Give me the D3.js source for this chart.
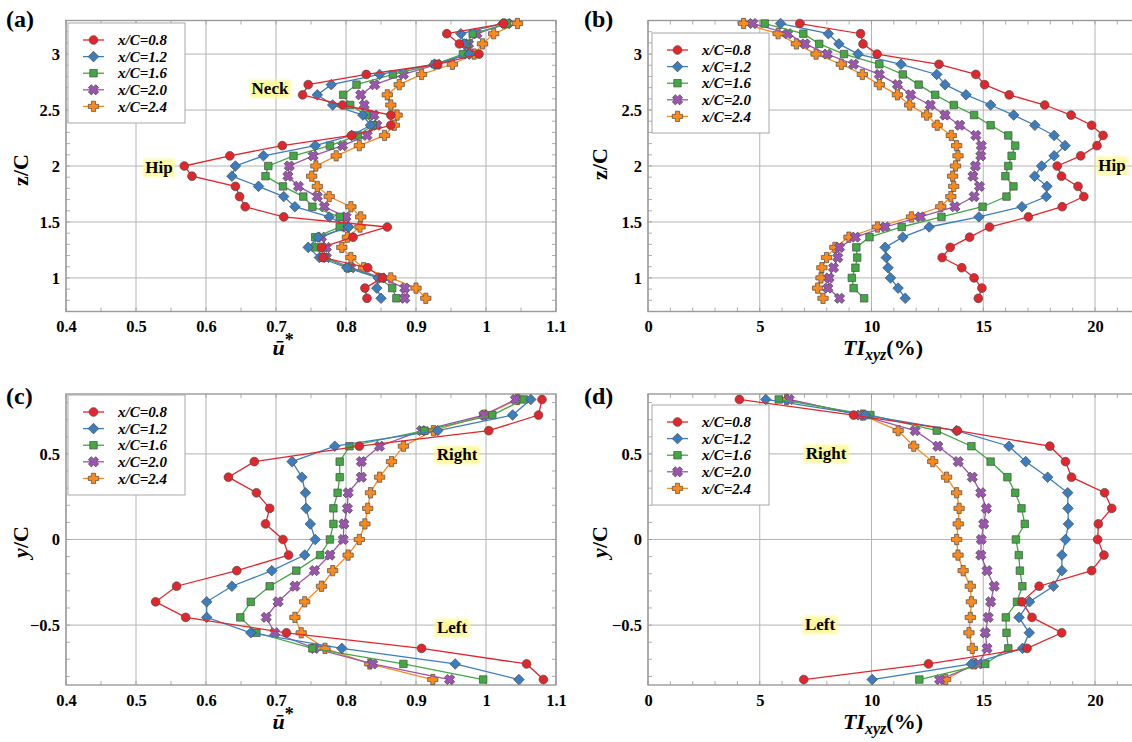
<!DOCTYPE html>
<html><head><meta charset="utf-8">
<script src="https://cdn.jsdelivr.net/npm/d3@7"></script>
<style>body{margin:0;background:#fff;overflow:hidden}</style>
</head><body>
<svg id="chart" width="1132" height="742"></svg>
<script>
// ---------- data ----------
const seriesNames = ["x/C=0.8","x/C=1.2","x/C=1.6","x/C=2.0","x/C=2.4"];
const zLevels = [3.273,3.182,3.091,3.0,2.909,2.818,2.727,2.636,2.545,2.455,2.364,2.273,2.182,2.091,2.0,1.909,1.818,1.727,1.636,1.545,1.455,1.364,1.273,1.182,1.091,1.0,0.909,0.818];
const yLevels = [0.818,0.727,0.636,0.545,0.455,0.364,0.273,0.182,0.091,0,-0.091,-0.182,-0.273,-0.364,-0.455,-0.545,-0.636,-0.727,-0.818];

// (a) mean streamwise velocity vs z/C
const uz08 = [1.025,0.944,0.962,0.990,0.931,0.829,0.746,0.738,0.795,0.864,0.864,0.808,0.709,0.634,0.569,0.580,0.642,0.648,0.656,0.711,0.859,0.810,0.765,0.767,0.831,0.852,0.827,0.830];
const uz12 = [1.024,0.964,0.969,0.976,0.926,0.848,0.779,0.759,0.781,0.824,0.835,0.808,0.756,0.682,0.642,0.637,0.675,0.711,0.727,0.776,0.804,0.760,0.746,0.762,0.801,0.846,0.844,0.850];
const uz16 = [1.030,0.981,0.972,0.967,0.927,0.867,0.815,0.796,0.806,0.829,0.838,0.817,0.777,0.725,0.689,0.685,0.710,0.739,0.752,0.791,0.791,0.756,0.756,0.769,0.803,0.848,0.866,0.872];
const uz20 = [1.030,0.987,0.975,0.973,0.930,0.882,0.841,0.821,0.826,0.840,0.844,0.830,0.795,0.753,0.719,0.717,0.732,0.759,0.769,0.800,0.800,0.765,0.772,0.772,0.807,0.851,0.884,0.884];
const uz24 = [1.045,1.011,0.995,0.983,0.952,0.908,0.876,0.859,0.864,0.873,0.869,0.855,0.819,0.786,0.757,0.751,0.759,0.776,0.807,0.821,0.820,0.802,0.794,0.807,0.825,0.864,0.900,0.914];

// (b) turbulence intensity vs z/C
const tz08 = [6.79,9.51,9.62,10.25,13.02,14.67,15.06,16.16,17.75,18.93,19.85,20.36,20.09,19.36,18.31,18.50,19.24,19.50,18.53,17.02,15.28,14.39,13.52,13.16,14.04,14.59,14.94,14.78];
const tz12 = [5.93,8.07,8.54,9.40,11.32,12.92,13.29,14.23,15.33,16.36,17.31,18.17,18.66,18.17,17.61,17.30,17.85,17.82,16.73,14.81,12.58,11.40,10.61,10.66,10.74,10.85,11.19,11.51];
const tz16 = [5.22,6.95,7.66,8.77,10.35,11.40,12.11,12.85,13.68,14.59,15.33,16.12,16.43,16.27,16.12,15.99,16.35,16.04,14.97,13.13,11.35,9.91,9.32,9.36,9.28,9.12,9.20,9.67];
const tz20 = [4.69,6.26,7.03,8.02,9.20,10.35,11.16,11.75,12.63,13.29,13.95,14.67,14.91,14.89,14.65,14.54,14.83,14.59,13.73,12.19,10.61,9.28,8.57,8.49,8.30,8.10,8.05,8.57];
const tz24 = [4.28,5.82,6.64,7.52,8.65,9.59,10.35,11.16,11.71,12.47,12.94,13.57,13.81,13.87,13.76,13.63,13.68,13.55,13.10,11.79,10.27,8.99,8.36,7.99,7.78,7.74,7.59,7.83];

// (c) mean streamwise velocity vs y/C
const uy08 = [1.080,1.075,1.004,0.819,0.669,0.632,0.672,0.691,0.685,0.710,0.718,0.644,0.558,0.528,0.571,0.715,0.908,1.058,1.082];
const uy12 = [1.064,1.038,0.931,0.784,0.723,0.737,0.742,0.743,0.749,0.756,0.741,0.694,0.637,0.601,0.601,0.664,0.794,0.956,1.047];
const uy16 = [1.054,1.009,0.912,0.805,0.791,0.791,0.788,0.782,0.782,0.777,0.763,0.729,0.691,0.664,0.649,0.672,0.752,0.882,0.996];
const uy20 = [1.042,0.997,0.908,0.848,0.822,0.822,0.803,0.802,0.797,0.796,0.777,0.755,0.727,0.703,0.686,0.698,0.755,0.838,0.948];
const uy24 = [1.045,0.998,0.925,0.882,0.865,0.848,0.835,0.831,0.827,0.819,0.803,0.781,0.765,0.741,0.727,0.736,0.770,0.834,0.924];

// (d) turbulence intensity vs y/C
const ty08 = [4.09,9.20,13.84,17.98,18.68,18.95,20.43,20.75,20.15,20.12,20.40,19.85,17.50,16.73,17.18,18.51,16.96,12.55,6.97];
const ty12 = [5.27,9.72,13.80,16.15,16.90,17.88,18.78,18.79,18.81,18.68,18.52,18.52,18.14,17.07,16.60,17.06,16.76,14.47,10.03];
const ty16 = [5.85,9.95,12.92,14.47,15.33,16.08,16.43,16.71,16.86,16.46,16.59,16.64,16.75,16.51,16.01,16.04,16.12,15.09,12.14];
const ty20 = [6.32,9.50,11.95,12.97,13.88,14.51,14.89,15.14,15.02,14.91,14.89,15.17,15.49,15.33,15.22,15.09,15.17,14.78,13.05];
const ty24 = [6.20,9.60,11.19,11.89,12.74,13.36,13.81,13.92,13.88,13.81,13.87,14.10,14.42,14.47,14.42,14.36,14.51,14.60,13.32];

// ticks
const uTicks = [0.4,0.5,0.6,0.7,0.8,0.9,1,1.1];
const uTickLabels = ["0.4","0.5","0.6","0.7","0.8","0.9","1","1.1"];
const tiTicks = [0,5,10,15,20];
const tiTickLabels = ["0","5","10","15","20"];
const zTicks = [1,1.5,2,2.5,3];
const zTickLabels = ["1","1.5","2","2.5","3"];
const yTicks = [-0.5,0,0.5];
const yTickLabels = ["\u22120.5","0","0.5"];

// ---------- styles ----------
const colors = ["#e3262b","#3a7ec0","#43a843","#9b55ae","#fb8a1d"];

// custom symbol types for d3.symbol
const symDiamond = {draw(ctx, size){ const r = Math.sqrt(size)/2*1.414; ctx.moveTo(0,-r); ctx.lineTo(r,0); ctx.lineTo(0,r); ctx.lineTo(-r,0); ctx.closePath(); }};
const symPlus = {draw(ctx, size){ const r = Math.sqrt(size)*0.55, w = r*0.4;
  const p = [[-w,-r],[w,-r],[w,-w],[r,-w],[r,w],[w,w],[w,r],[-w,r],[-w,w],[-r,w],[-r,-w],[-w,-w]];
  ctx.moveTo(p[0][0],p[0][1]); for (let i=1;i<p.length;i++) ctx.lineTo(p[i][0],p[i][1]); ctx.closePath(); }};
const symbols = [d3.symbolCircle, symDiamond, d3.symbolSquare, symPlus, symPlus];
const symSizes = [60, 56, 56, 88, 88];
const symRot = [0,0,0,45,0];
const SERIF = "'Liberation Serif','Times New Roman',serif";

const svg = d3.select("#chart");
const defs = svg.append("defs");
defs.append("filter").attr("id","glow").attr("x","-30%").attr("y","-50%").attr("width","160%").attr("height","200%")
  .append("feGaussianBlur").attr("stdDeviation",1.6);

const panels = [
  {tag:"(a)", tagX:6, tagY:27, xd:[0.4,1.1], xr:[66,556], yd:[0.7,3.3], yr:[311.5,20.5],
   lev:zLevels, data:[uz08,uz12,uz16,uz20,uz24], xt:uTicks, xl:uTickLabels, xMinor:0.05,
   yt:zTicks, yl:zTickLabels, yMinorFrom:0.7, yMinorTo:3.3,
   xTitle:"u", xTitleX:283, xTitleY:355, yTitle:"z", yTitleX:20, yTitleY:170, leg:[68,23]},
  {tag:"(b)", tagX:584, tagY:27, xd:[0,22], xr:[648,1139.7], yd:[0.7,3.3], yr:[311.5,20.5],
   lev:zLevels, data:[tz08,tz12,tz16,tz20,tz24], xt:tiTicks, xl:tiTickLabels, xMinor:1,
   yt:zTicks, yl:zTickLabels, yMinorFrom:0.7, yMinorTo:3.3,
   xTitle:"TI", xTitleX:883, xTitleY:355, yTitle:"z", yTitleX:599, yTitleY:164, leg:[652,33]},
  {tag:"(c)", tagX:6, tagY:404, xd:[0.4,1.1], xr:[66,556], yd:[-0.85,0.85], yr:[685,394],
   lev:yLevels, data:[uy08,uy12,uy16,uy20,uy24], xt:uTicks, xl:uTickLabels, xMinor:0.05,
   yt:yTicks, yl:yTickLabels, yMinorFrom:-0.8, yMinorTo:0.8,
   xTitle:"u", xTitleX:283, xTitleY:729, yTitle:"y", yTitleX:20, yTitleY:542, leg:[68,395]},
  {tag:"(d)", tagX:584, tagY:404, xd:[0,22], xr:[648,1139.7], yd:[-0.85,0.85], yr:[685,394],
   lev:yLevels, data:[ty08,ty12,ty16,ty20,ty24], xt:tiTicks, xl:tiTickLabels, xMinor:1,
   yt:yTicks, yl:yTickLabels, yMinorFrom:-0.8, yMinorTo:0.8,
   xTitle:"TI", xTitleX:883, xTitleY:729, yTitle:"y", yTitleX:599, yTitleY:542, leg:[652,405]}
];

const notes = [
  {p:0, t:"Neck", x:270, y:88},
  {p:0, t:"Hip", x:159, y:167},
  {p:1, t:"Hip", x:1112, y:165},
  {p:2, t:"Right", x:457, y:454},
  {p:2, t:"Left", x:452, y:627},
  {p:3, t:"Right", x:826, y:453},
  {p:3, t:"Left", x:820, y:624}
];

function markerPath(i){ return d3.symbol().type(symbols[i]).size(symSizes[i])(); }

panels.forEach((P, pi) => {
  const x = d3.scaleLinear().domain(P.xd).range(P.xr);
  const y = d3.scaleLinear().domain(P.yd).range(P.yr);
  const g = svg.append("g");
  const L = P.xr[0], R = P.xr[1], T = P.yr[1], B = P.yr[0];

  // gridlines
  g.append("g").selectAll("line").data(P.xt).join("line")
    .attr("x1", d=>x(d)).attr("x2", d=>x(d)).attr("y1", T).attr("y2", B)
    .attr("stroke","#b4b4b4").attr("stroke-width",1);
  g.append("g").selectAll("line").data(P.yt).join("line")
    .attr("x1", L).attr("x2", R).attr("y1", d=>y(d)).attr("y2", d=>y(d))
    .attr("stroke","#b4b4b4").attr("stroke-width",1);

  // minor ticks (inward)
  const xm = d3.range(P.xd[0], P.xd[1]+1e-9, P.xMinor);
  const ym = d3.range(P.yMinorFrom, P.yMinorTo+1e-9, 0.1);
  const mt = g.append("g").attr("stroke","#999").attr("stroke-width",0.8);
  mt.selectAll(".xb").data(xm).join("line").attr("x1",d=>x(d)).attr("x2",d=>x(d)).attr("y1",B).attr("y2",B-4);
  mt.selectAll(".xt").data(xm).join("line").attr("x1",d=>x(d)).attr("x2",d=>x(d)).attr("y1",T).attr("y2",T+4);
  mt.selectAll(".yl").data(ym).join("line").attr("y1",d=>y(d)).attr("y2",d=>y(d)).attr("x1",L).attr("x2",L+4);
  mt.selectAll(".yr").data(ym).join("line").attr("y1",d=>y(d)).attr("y2",d=>y(d)).attr("x1",R).attr("x2",R-4);

  // frame
  g.append("rect").attr("x",L).attr("y",T).attr("width",R-L).attr("height",B-T)
    .attr("fill","none").attr("stroke","#9a9a9a").attr("stroke-width",1.4);

  // axes (labels only)
  const ax = g.append("g").attr("transform",`translate(0,${B})`)
    .call(d3.axisBottom(x).tickValues(P.xt).tickFormat((d,i)=>P.xl[i]).tickSize(0).tickPadding(9));
  const ay = g.append("g").attr("transform",`translate(${L},0)`)
    .call(d3.axisLeft(y).tickValues(P.yt).tickFormat((d,i)=>P.yl[i]).tickSize(0).tickPadding(6));
  [ax, ay].forEach(a => {
    a.select(".domain").remove();
    a.selectAll("text").attr("font-family",SERIF).attr("font-weight","bold").attr("font-size",16.5).attr("fill","#000");
  });

  // series (reverse order so x/C=0.8 on top)
  for (let s = 4; s >= 0; s--) {
    const pts = P.lev.map((lv, k) => [P.data[s][k], lv]);
    g.append("path").datum(pts)
      .attr("d", d3.line().x(d=>x(d[0])).y(d=>y(d[1])))
      .attr("fill","none").attr("stroke",colors[s]).attr("stroke-width",1.3);
    g.append("g").selectAll("path").data(pts).join("path")
      .attr("d", markerPath(s))
      .attr("transform", d=>`translate(${x(d[0])},${y(d[1])}) rotate(${symRot[s]})`)
      .attr("fill",colors[s]).attr("stroke","#4a4a4a").attr("stroke-width",0.7).attr("stroke-linejoin","round");
  }

  // legend
  const [lx, ly] = P.leg;
  const lg = g.append("g").attr("transform",`translate(${lx},${ly})`);
  lg.append("rect").attr("width",117).attr("height",100).attr("fill","#fff").attr("stroke","#a8a8a8").attr("stroke-width",1);
  seriesNames.forEach((nm, s) => {
    const yy = 17 + s*16.6;
    lg.append("line").attr("x1",15).attr("x2",36).attr("y1",yy).attr("y2",yy).attr("stroke",colors[s]).attr("stroke-width",1.3);
    lg.append("path").attr("d",markerPath(s)).attr("transform",`translate(25.5,${yy}) rotate(${symRot[s]})`)
      .attr("fill",colors[s]).attr("stroke","#4a4a4a").attr("stroke-width",0.7).attr("stroke-linejoin","round");
    lg.append("text").attr("x",50).attr("y",yy).attr("dy","0.34em").text(nm)
      .attr("font-family",SERIF).attr("font-style","italic").attr("font-weight","bold").attr("font-size",15);
  });

  // panel tag
  svg.append("text").attr("x",P.tagX).attr("y",P.tagY).text(P.tag)
    .attr("font-family",SERIF).attr("font-weight","bold").attr("font-size",24);

  // x title
  const xt = svg.append("text").attr("x",P.xTitleX).attr("y",P.xTitleY).attr("text-anchor","middle")
    .attr("font-family",SERIF).attr("font-weight","bold").attr("font-size",22);
  if (P.xTitle === "u") {
    xt.append("tspan").attr("font-style","italic").text("\u016B");
    xt.append("tspan").attr("dy",-9).attr("font-size",18).text("*");
  } else {
    xt.append("tspan").attr("font-style","italic").text("TI");
    xt.append("tspan").attr("font-style","italic").attr("font-size",16).attr("dy",5).text("xyz");
    xt.append("tspan").attr("dy",-5).text("(%)");
  }
  // y title
  const yt = svg.append("text").attr("transform",`translate(${P.yTitleX},${P.yTitleY}) rotate(-90)`)
    .attr("text-anchor","middle").attr("dy","0.35em")
    .attr("font-family",SERIF).attr("font-weight","bold").attr("font-size",22);
  yt.append("tspan").attr("font-style", P.yTitle==="y" ? "italic" : "normal").text(P.yTitle);
  yt.append("tspan").text("/C");
});

// annotations with yellow glow
notes.forEach(n => {
  const grp = svg.append("g");
  const t = grp.append("text").attr("x",n.x).attr("y",n.y).attr("dy","0.35em").attr("text-anchor","middle")
    .attr("font-family",SERIF).attr("font-weight","bold").attr("font-size",17).text(n.t);
  const bb = t.node().getBBox();
  grp.insert("rect","text").attr("x",bb.x-2).attr("y",bb.y+1).attr("width",bb.width+4).attr("height",bb.height-1)
    .attr("fill","#fdf98f").attr("opacity",0.85).attr("filter","url(#glow)");
});
</script>
</body></html>
